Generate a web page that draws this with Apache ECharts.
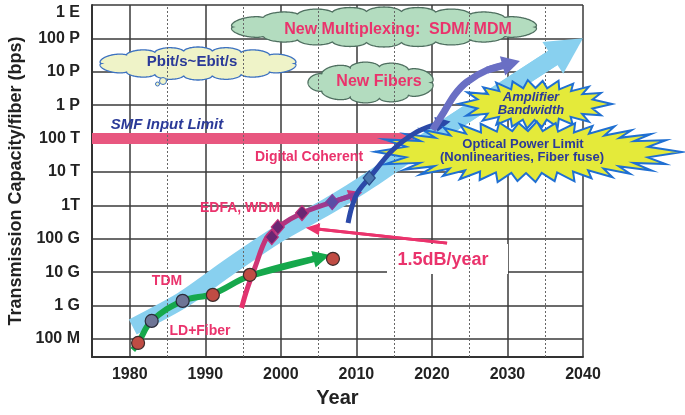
<!DOCTYPE html>
<html>
<head>
<meta charset="utf-8">
<script src="https://cdn.jsdelivr.net/npm/echarts@6/dist/echarts.min.js"></script>
<style>
  html, body { margin: 0; padding: 0; background: #fff; }
  #chart { width: 685px; height: 415px; }
</style>
</head>
<body>
<div id="chart"></div>
<script>
// axis ticks (y is log10 of bps)
const yTickExps = [8, 9, 10, 11, 12, 13, 14, 15, 16, 17, 18];
const yTickLabels = ['100 M', '1 G', '10 G', '100 G', '1T', '10 T', '100 T', '1 P', '10 P', '100 P', '1 E'];
const xDecades = [1980, 1990, 2000, 2010, 2020, 2030, 2040];
const xHalfDecades = [1985, 1995, 2005, 2015, 2025, 2035];

// overall trend band
const trendYears = [1980.4, 1987.0, 1993.2, 1999.9, 2006.5, 2011.8, 2022.4, 2038.0];
const trendLog = [8.36, 9.17, 10.16, 11.17, 12.01, 12.76, 14.41, 16.71];

// TDM (green)
const tdmYears = [1980.4, 1981.1, 1982.9, 1987.0, 1991.0, 1995.9, 2005.4];
const tdmLog = [7.67, 7.88, 8.54, 9.14, 9.35, 9.89, 10.45];
const tdmRedYears = [1981.1, 1991.0, 1995.9, 2006.9];
const tdmRedLog = [7.88, 9.32, 9.92, 10.40];
const tdmGreyYears = [1982.9, 1987.0];
const tdmGreyLog = [8.54, 9.14];

// EDFA, WDM (magenta)
const wdmYears = [1994.8, 1995.5, 1996.6, 1998.1, 1999.6, 2002.8, 2006.8, 2009.9];
const wdmLog = [8.93, 9.47, 10.16, 11.02, 11.35, 11.77, 12.10, 12.33];
const wdmDiaYears = [1998.8, 1999.6, 2002.8];
const wdmDiaLog = [11.05, 11.35, 11.77];
const wdmDia2Years = [2006.8];
const wdmDia2Log = [12.10];

// digital coherent (blue)
const cohYears = [2008.9, 2009.4, 2010.2, 2011.7, 2014.8, 2018.0, 2020.4, 2021.5];
const cohLog = [11.47, 11.95, 12.40, 12.82, 13.66, 14.20, 14.42, 14.47];
const cohDiaYears = [2011.7];
const cohDiaLog = [12.82];

// SDM/MDM (slate)
const sdmYears = [2020.1, 2021.6, 2023.0, 2024.6, 2027.3, 2030.5];
const sdmLog = [14.26, 14.80, 15.31, 15.69, 16.05, 16.25];

// SMF input limit
const smfYears = [1975, 2017.5];
const smfLog = [14, 14];

// 1.5dB/year pointer
const rateYears = [2022.0, 2004.2];
const rateLog = [10.87, 11.31];

const FONT = 'Liberation Sans, Arial, sans-serif';
const PINK = '#ea336c';
const NAVY = '#2b3a98';

const pairs = (xs, ys) => xs.map((x, i) => [x, ys[i]]);

function arrowSeries(name, xs, ys, color, headColor, width, head, z, smooth) {
  const data = pairs(xs, ys);
  const n = data.length;
  return {
    name: name, type: 'line', data: data, smooth: smooth, z: z,
    symbol: 'none', silent: true,
    lineStyle: { color: color, width: width, cap: 'butt' },
    markLine: {
      silent: true, symbol: ['none', 'triangle'], symbolSize: head,
      lineStyle: { color: headColor, width: width, type: 'solid', opacity: 1 },
      label: { show: false },
      data: [[{ coord: data[n - 2] }, { coord: data[n - 1] }]]
    }
  };
}

function dots(name, xs, ys, symbol, size, color, border, z) {
  return {
    name: name, type: 'scatter', data: pairs(xs, ys), symbol: symbol, symbolSize: size, z: z,
    itemStyle: { color: color, borderColor: border, borderWidth: 1.2, opacity: 1 }
  };
}

// outline helpers for the clouds and the starbursts
function ellipseSamples(cx, cy, rx, ry, m) {
  const pts = [];
  let len = 0, prev = null;
  for (let i = 0; i <= m; i++) {
    const t = i / m * Math.PI * 2;
    const p = [Math.cos(t), Math.sin(t)];
    const q = [cx + rx * p[0], cy + ry * p[1]];
    if (prev) len += Math.hypot(q[0] - prev[0], q[1] - prev[1]);
    pts.push({ t: t, c: p, L: len });
    prev = q;
  }
  return { pts: pts, total: len };
}

function cloud(cx, cy, rx, ry, bumpLen, amp, fill, stroke, z) {
  const e = ellipseSamples(cx, cy, rx, ry, 600);
  const nb = Math.round(e.total / bumpLen);
  const pts = e.pts.map(p => {
    const s = Math.sqrt(Math.abs(Math.sin(Math.PI * nb * p.L / e.total)));
    return [cx + (rx - amp + amp * s) * p.c[0], cy + (ry - amp + amp * s) * p.c[1]];
  });
  return { type: 'polygon', z: z, silent: true, shape: { points: pts },
    style: { fill: fill, stroke: stroke, lineWidth: 1.3 } };
}

function burst(cx, cy, rx, ry, n, dx, dy, z) {
  const e = ellipseSamples(cx, cy, rx, ry, 800);
  const vary = [1, 0.9, 1.06, 0.94, 1.02, 0.88, 1.08, 0.96];
  const at = f => {
    const L = f * e.total;
    let k = 0;
    while (k < e.pts.length - 1 && e.pts[k].L < L) k++;
    return e.pts[k].c;
  };
  const pts = [];
  for (let k = 0; k < n; k++) {
    const o = at(k / n), inn = at((k + 0.5) / n);
    const v = vary[k % vary.length];
    pts.push([cx + (rx - dx + dx * v) * o[0], cy + (ry - dy + dy * v) * o[1]]);
    pts.push([cx + (rx - dx) * inn[0], cy + (ry - dy) * inn[1]]);
  }
  return { type: 'polygon', z: z, silent: true, shape: { points: pts },
    style: { fill: '#e4ea3a', stroke: '#1f6fd2', lineWidth: 2, lineJoin: 'miter' } };
}

function label(text, x, y, color, size, style, z) {
  return { type: 'text', x: x, y: y, z: z || 20, silent: true,
    style: { text: text, fill: color, font: (style || 'normal') + ' bold ' + size + 'px ' + FONT,
      textAlign: 'center', textVerticalAlign: 'middle' } };
}

const wdmGradient = new echarts.graphic.LinearGradient(0, 1, 1, 0, [
  { offset: 0, color: '#ea336c' }, { offset: 0.55, color: '#b4357e' }, { offset: 1, color: '#8e3c98' }
]);

const chart = echarts.init(document.getElementById('chart'));
chart.setOption({
  animation: false,
  backgroundColor: '#fff',
  grid: { left: 92, right: 102, top: 5, bottom: 58, containLabel: false, outerBoundsMode: 'none' },
  xAxis: {
    type: 'value', min: 1975, max: 2040,
    name: 'Year', nameLocation: 'middle', nameGap: 31,
    nameTextStyle: { fontFamily: FONT, fontWeight: 'bold', fontSize: 20, color: '#222' },
    axisLine: { show: true, onZero: false, lineStyle: { color: '#333', width: 2 } },
    axisTick: { show: false, customValues: xDecades },
    axisLabel: { customValues: xDecades, margin: 10, fontFamily: FONT, fontWeight: 'bold',
      fontSize: 16, color: '#222', formatter: v => String(Math.round(v)) },
    splitLine: { show: true, lineStyle: { color: '#3a3a3a', width: 1.5 } }
  },
  yAxis: {
    type: 'value', min: 7.46, max: 18,
    name: 'Transmission Capacity/fiber (bps)', nameLocation: 'middle', nameGap: 66,
    nameTextStyle: { fontFamily: FONT, fontWeight: 'bold', fontSize: 18, color: '#222' },
    axisLine: { show: true, onZero: false, lineStyle: { color: '#333', width: 2 } },
    axisTick: { show: false, customValues: yTickExps },
    axisLabel: { customValues: yTickExps, margin: 12, fontFamily: FONT, fontWeight: 'bold',
      fontSize: 16, color: '#222',
      formatter: v => {
        const t = yTickLabels[yTickExps.indexOf(Math.round(v))] || '';
        return Math.round(v) === 18 ? '{top|' + t + '}' : t;
      },
      rich: { top: { fontFamily: FONT, fontWeight: 'bold', fontSize: 16, color: '#222',
        padding: [16, 0, 0, 0] } } },
    splitLine: { show: true, lineStyle: { color: '#3a3a3a', width: 1.5 } }
  },
  series: [
    {
      name: 'half decades', type: 'line', data: [], z: 1, silent: true,
      markLine: {
        silent: true, symbol: 'none', label: { show: false },
        lineStyle: { color: '#666', width: 1, type: [2, 2] },
        data: xHalfDecades.map(v => ({ xAxis: v }))
      }
    },
    {
      name: 'SMF Input Limit', type: 'line', data: pairs(smfYears, smfLog), z: 4, symbol: 'none',
      silent: true, lineStyle: { color: '#e8577f', width: 11, cap: 'butt' }
    },
    arrowSeries('trend', trendYears, trendLog, '#88d0ef', '#88d0ef', 17, [38, 36], 4, 0.25),
    arrowSeries('TDM', tdmYears, tdmLog, '#16a84c', '#16a84c', 6, [17, 17], 5, 0.4),
    dots('TDM red', tdmRedYears, tdmRedLog, 'circle', 13, '#c04c44', '#3a2b2b', 6),
    dots('TDM grey', tdmGreyYears, tdmGreyLog, 'circle', 13, '#6e7596', '#2b2b3a', 6),
    arrowSeries('EDFA, WDM', wdmYears, wdmLog, wdmGradient, '#c9357a', 5, [14, 14], 5, 0.35),
    dots('WDM', wdmDiaYears, wdmDiaLog, 'diamond', [13, 15], '#6a2673', '#c0307a', 6),
    dots('WDM 2', wdmDia2Years, wdmDia2Log, 'diamond', [13, 15], '#5a4ea6', '#8a3a9a', 6),
    arrowSeries('Digital Coherent', cohYears, cohLog, '#2b49a8', '#2b49a8', 5, [15, 15], 8, 0.35),
    dots('Coherent', cohDiaYears, cohDiaLog, 'diamond', [12, 14], '#4a78b0', '#2a4a88', 9),
    arrowSeries('SDM/MDM', sdmYears, sdmLog, '#6a6fc4', '#6a6fc4', 7, [20, 18], 8, 0.35),
    arrowSeries('1.5dB/year', rateYears, rateLog, PINK, PINK, 3, [12, 14], 8, false)
  ],
  graphic: { elements: [
    cloud(384, 27, 156, 20, 36, 5, '#b3dcbf', '#4f6f60', 3),
    cloud(198, 63.5, 101, 16.5, 30, 4.5, '#eff3c8', '#3d72c0', 3),
    { type: 'circle', z: 3, silent: true, shape: { cx: 163, cy: 81, r: 3.5 },
      style: { fill: '#eff3c8', stroke: '#3d72c0', lineWidth: 1 } },
    { type: 'circle', z: 3, silent: true, shape: { cx: 157.5, cy: 84, r: 2 },
      style: { fill: '#eff3c8', stroke: '#3d72c0', lineWidth: 1 } },
    cloud(372, 82.5, 64, 20.5, 30, 5, '#b3dcbf', '#4f6f60', 3),
    burst(535, 104, 77, 24, 22, 17, 8, 6),
    burst(527, 152, 155, 30, 34, 30, 9, 7),
    { type: 'rect', z: 3, silent: true, shape: { x: 387, y: 244, width: 121, height: 30 },
      style: { fill: '#fff' } },
    label('New Multiplexing:  SDM/ MDM', 398, 30, PINK, 16),
    label('Pbit/s~Ebit/s', 192, 62, NAVY, 15),
    label('New Fibers', 379, 82, PINK, 16),
    label('Amplifier', 531, 97, NAVY, 13, 'italic'),
    label('Bandwidth', 531, 110, NAVY, 13, 'italic'),
    label('Optical Power Limit', 523, 144, NAVY, 13),
    label('(Nonlinearities, Fiber fuse)', 522, 157, NAVY, 13),
    label('SMF Input Limit', 167, 125, NAVY, 15, 'italic'),
    label('Digital Coherent', 309, 157, PINK, 14),
    label('EDFA, WDM', 240, 208, PINK, 14),
    label('TDM', 167, 281, PINK, 14),
    label('LD+Fiber', 200, 331, PINK, 14),
    label('1.5dB/year', 443, 260, PINK, 18)
  ] }
});
</script>
</body>
</html>
